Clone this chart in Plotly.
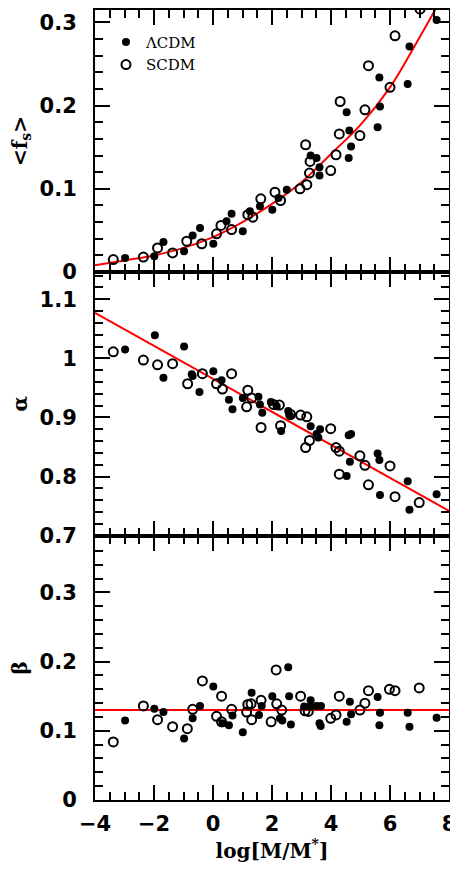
import plotly.graph_objects as go
from plotly.subplots import make_subplots

# --- data ---
# top panel: <f_s> vs log[M/M*]
fs_lcdm_x = [-2.98, -1.99, -1.68, -0.98, -0.69, -0.44, 0.01, 0.46, 0.63, 1.01, 1.25, 1.59, 2.01, 2.22, 2.50,
             3.31, 3.51, 3.61, 3.61, 4.53, 4.62, 4.60, 4.68, 5.64, 5.66, 5.58, 6.60, 6.66, 7.58]
fs_lcdm_y = [0.017, 0.019, 0.036, 0.025, 0.044, 0.053, 0.034, 0.061, 0.070, 0.049, 0.073, 0.079, 0.075, 0.089, 0.099,
             0.140, 0.137, 0.126, 0.116, 0.192, 0.170, 0.137, 0.151, 0.234, 0.199, 0.174, 0.226, 0.271, 0.303]
fs_scdm_x = [-3.38, -2.36, -1.88, -1.37, -0.89, -0.38, 0.12, 0.27, 0.63, 1.18, 1.35, 1.62, 2.10, 2.29, 2.95,
             3.18, 3.14, 3.29, 3.27, 3.99, 4.17, 4.28, 4.31, 4.98, 5.15, 5.27, 6.00, 6.17, 7.02]
fs_scdm_y = [0.015, 0.018, 0.029, 0.023, 0.037, 0.034, 0.046, 0.056, 0.051, 0.069, 0.066, 0.088, 0.096, 0.086, 0.100,
             0.105, 0.153, 0.133, 0.119, 0.122, 0.141, 0.166, 0.205, 0.164, 0.195, 0.248, 0.222, 0.284, 0.316]
fs_fit_x = [-4, -3, -2, -1, 0, 1, 2, 3, 4, 5, 6, 7, 8]
fs_fit_y = [0.008, 0.014, 0.020, 0.029, 0.042, 0.060, 0.082, 0.108, 0.142, 0.177, 0.222, 0.282, 0.345]

# middle panel: alpha
al_lcdm_x = [-2.98, -1.97, -1.68, -0.98, -0.69, -0.72, -0.46, 0.01, 0.29, 0.54, 0.66, 1.01, 1.54, 1.67, 1.59,
             1.96, 2.16, 2.31, 2.55, 2.61, 3.31, 3.51, 3.63, 3.57, 4.53, 4.60, 4.68, 4.64, 5.58, 5.64, 5.66,
             6.60, 6.66, 7.58]
al_lcdm_y = [1.015, 1.039, 0.967, 1.020, 0.970, 0.973, 0.943, 0.978, 0.963, 0.930, 0.914, 0.933, 0.935, 0.908, 0.922,
             0.926, 0.919, 0.877, 0.911, 0.903, 0.885, 0.872, 0.880, 0.866, 0.801, 0.870, 0.872, 0.825, 0.839, 0.828, 0.769,
             0.792, 0.744, 0.770]
al_scdm_x = [-3.38, -2.36, -1.88, -1.37, -0.86, -0.36, 0.12, 0.32, 0.63, 1.18, 1.14, 1.31, 1.63, 2.05, 2.25,
             2.29, 2.63, 2.97, 3.18, 3.27, 3.14, 3.99, 4.17, 4.28, 4.28, 4.98, 5.15, 5.27, 6.00, 6.17, 6.99]
al_scdm_y = [1.011, 0.997, 0.989, 0.991, 0.957, 0.974, 0.957, 0.948, 0.974, 0.946, 0.918, 0.933, 0.883, 0.922, 0.921,
             0.886, 0.905, 0.904, 0.901, 0.861, 0.849, 0.881, 0.849, 0.843, 0.804, 0.835, 0.819, 0.786, 0.818, 0.766, 0.756]
al_fit_x = [-4, 8]
al_fit_y = [1.077, 0.742]

# bottom panel: beta
be_lcdm_x = [-2.98, -1.99, -1.68, -0.98, -0.69, -0.44, 0.01, 0.32, 0.54, 0.66, 1.01, 1.31, 1.56, 1.65, 2.01,
             2.27, 2.35, 2.55, 2.58, 2.64, 3.09, 3.31, 3.29, 3.51, 3.61, 3.65, 3.66, 4.53, 4.64, 4.68,
             5.58, 5.66, 5.64, 6.60, 6.66, 7.58]
be_lcdm_y = [0.115, 0.132, 0.127, 0.089, 0.118, 0.136, 0.164, 0.111, 0.108, 0.122, 0.098, 0.155, 0.123, 0.136, 0.150,
             0.118, 0.115, 0.192, 0.150, 0.109, 0.135, 0.144, 0.135, 0.136, 0.111, 0.107, 0.136, 0.113, 0.142, 0.124,
             0.149, 0.126, 0.108, 0.126, 0.106, 0.119]
be_scdm_x = [-3.38, -2.36, -1.88, -1.37, -0.87, -0.69, -0.36, 0.12, 0.29, 0.29, 0.63, 1.14, 1.18, 1.29, 1.31,
             1.63, 1.97, 2.14, 2.16, 2.33, 2.97, 3.12, 3.23, 3.99, 4.17, 4.28, 4.98, 5.15, 5.27, 5.98, 6.17, 6.99]
be_scdm_y = [0.084, 0.136, 0.116, 0.106, 0.103, 0.131, 0.172, 0.121, 0.150, 0.113, 0.131, 0.127, 0.138, 0.139, 0.116,
             0.144, 0.113, 0.188, 0.139, 0.130, 0.150, 0.129, 0.128, 0.118, 0.123, 0.150, 0.130, 0.140, 0.158, 0.160, 0.158, 0.162]
be_fit_x = [-4, 8]
be_fit_y = [0.13, 0.13]

# %%
# page body has an 8px default margin, so the figure is 8px smaller than the window
fig = make_subplots(rows=3, cols=1, shared_xaxes=True, vertical_spacing=0,
                    row_heights=[262.7, 264.3, 265])

filled = dict(symbol='circle', size=8, color='black')
hollow = dict(symbol='circle-open', size=9, color='black', line=dict(width=2))

panels = [
    (fs_lcdm_x, fs_lcdm_y, fs_scdm_x, fs_scdm_y, fs_fit_x, fs_fit_y),
    (al_lcdm_x, al_lcdm_y, al_scdm_x, al_scdm_y, al_fit_x, al_fit_y),
    (be_lcdm_x, be_lcdm_y, be_scdm_x, be_scdm_y, be_fit_x, be_fit_y),
]
for i, (lx, ly, sx, sy, fx, fy) in enumerate(panels):
    row = i + 1
    fig.add_trace(go.Scatter(x=fx, y=fy, mode='lines', line=dict(color='red', width=2, shape='spline'),
                             showlegend=False), row=row, col=1)
    fig.add_trace(go.Scatter(x=lx, y=ly, mode='markers', marker=filled, name='ΛCDM',
                             showlegend=(row == 1)), row=row, col=1)
    fig.add_trace(go.Scatter(x=sx, y=sy, mode='markers', marker=hollow, name='SCDM',
                             showlegend=(row == 1)), row=row, col=1)

tickfont = dict(family='DejaVu Sans', size=21, color='black', weight='bold')
titlefont = dict(family='DejaVu Serif', size=20, color='black', weight='bold')

axis_common = dict(showline=True, linewidth=2, linecolor='black', mirror='ticks',
                   ticks='inside', ticklen=15, tickwidth=2, tickcolor='black',
                   showgrid=False, zeroline=False, tickfont=tickfont, ticklabeloverflow='allow')

for row in (1, 2, 3):
    fig.update_xaxes(range=[-4, 8], dtick=2, tick0=-4, ticklabelstandoff=4,
                     minor=dict(ticks='inside', dtick=0.5, ticklen=8, tickwidth=1.5, tickcolor='black'),
                     row=row, col=1, **axis_common)

fig.update_xaxes(title=dict(text='log[M/M<sup>*</sup>]', font=titlefont, standoff=6), row=3, col=1)

ymin = dict(ticks='inside', dtick=0.02, ticklen=8, tickwidth=1.5, tickcolor='black')
fig.update_yaxes(range=[0, 0.315], dtick=0.1, tick0=0, minor=ymin, row=1, col=1, ticklabelstandoff=12,
                 title=dict(text='&lt;f<sub>s</sub>&gt;', font=titlefont, standoff=12), **axis_common)
fig.update_yaxes(range=[0.7, 1.146], dtick=0.1, tick0=0.7, minor=ymin, row=2, col=1, ticklabelstandoff=12,
                 title=dict(text='α', font=titlefont, standoff=14), **axis_common)
fig.update_yaxes(range=[0, 0.382], dtick=0.1, tick0=0, minor=ymin, row=3, col=1, ticklabelstandoff=12,
                 title=dict(text='β', font=titlefont, standoff=14), **axis_common)

fig.update_layout(
    width=450, height=868,
    margin=dict(l=87, r=9, t=0, b=76),
    plot_bgcolor='white', paper_bgcolor='white',
    legend=dict(x=0.031, y=0.98, xanchor='left', yanchor='top', bgcolor='rgba(0,0,0,0)',
                font=dict(family='DejaVu Serif', size=15, color='black'),
                tracegroupgap=0, itemwidth=30),
)

fig.write_html("out.html")
